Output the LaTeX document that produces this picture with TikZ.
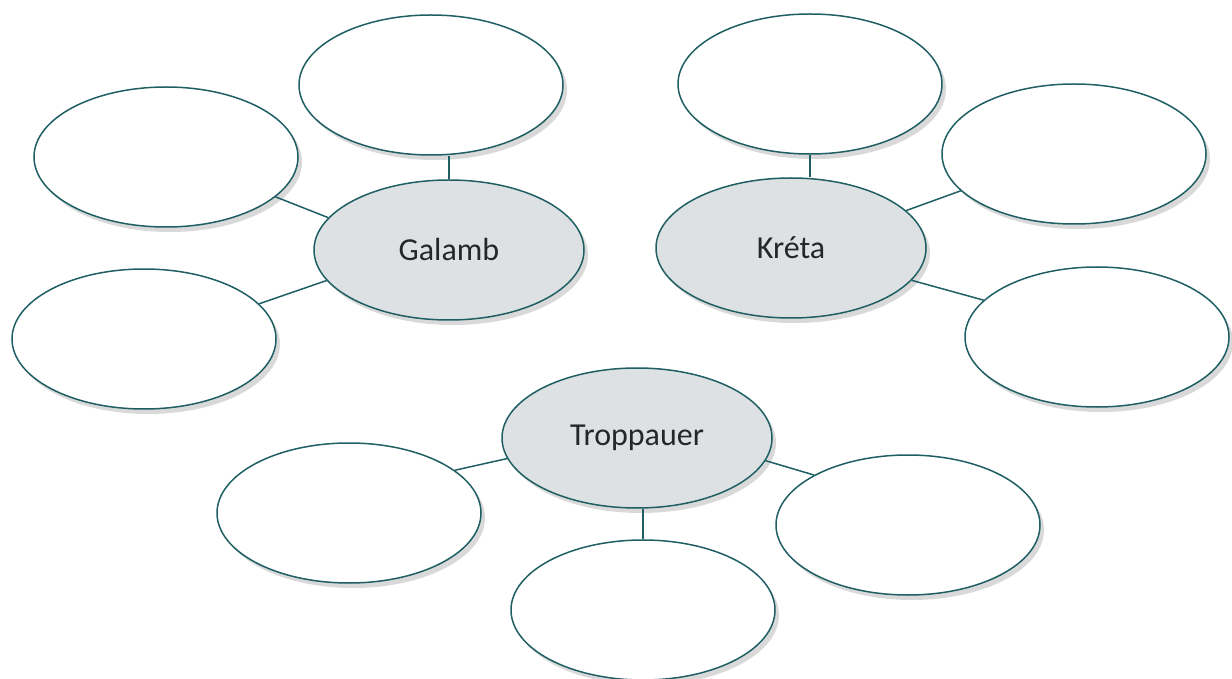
\documentclass[tikz,border=0pt]{standalone}
\usepackage{fontspec}
\setmainfont{Carlito}
\usetikzlibrary{shapes.geometric,shadows}
\definecolor{edgeteal}{HTML}{1F5F63}
\definecolor{hubfill}{HTML}{DDE1E3}
\tikzset{
  bubble/.style={ellipse, draw=edgeteal, line width=0.75pt, fill=white,
    minimum width=132pt, minimum height=70pt, inner sep=0pt,
    drop shadow={opacity=0.15, shadow xshift=2pt, shadow yshift=-2.5pt, fill=black}},
  hub/.style={bubble, fill=hubfill, minimum width=135pt, font=\fontsize{16}{18}\selectfont, text=black!85},
  link/.style={draw=edgeteal, line width=0.75pt}
}
\begin{document}
\begin{tikzpicture}[x=0.5pt, y=-0.5pt]
\useasboundingbox (0,0) rectangle (1232,679);
% hubs
\node[hub] (g) at (449,250) {Galamb};
\node[hub] (k) at (791,248) {Kréta};
\node[hub] (t) at (637,438) {Troppauer};
% satellites of Galamb
\node[bubble] (gt) at (431,85) {};
\node[bubble] (gl) at (166,157) {};
\node[bubble] (gb) at (144,339) {};
% satellites of Kréta
\node[bubble] (kt) at (810,84) {};
\node[bubble] (kr) at (1074,154) {};
\node[bubble] (kb) at (1097,337) {};
% satellites of Troppauer
\node[bubble] (tl) at (349,513) {};
\node[bubble] (tb) at (643,610) {};
\node[bubble] (tr) at (908,525) {};
% connectors
\draw[link] (g.north) -- (g.north |- gt.south);
\draw[link] (g.165) -- (gl.340);
\draw[link] (g.194) -- (gb.17);
\draw[link] (kt.south) -- (kt.south |- k.north);
\draw[link] (k.18) -- (kr.198);
\draw[link] (k.345) -- (kb.162);
\draw[link] (tb.north) -- (tb.north |- t.south);
\draw[link] (t.189) -- (tl.22);
\draw[link] (t.350) -- (tr.152);
\end{tikzpicture}
\end{document}
